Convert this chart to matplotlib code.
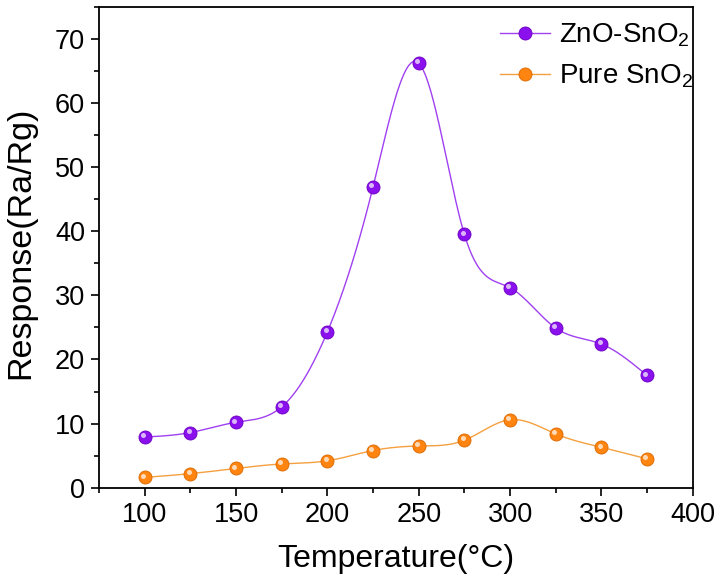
import numpy as np
import matplotlib
matplotlib.use("Agg")
import matplotlib.pyplot as plt
from matplotlib import transforms

plt.rcParams['font.family'] = ['Liberation Sans', 'DejaVu Sans']
plt.rcParams['mathtext.fontset'] = 'custom'
plt.rcParams['mathtext.rm'] = 'Liberation Sans'
plt.rcParams['mathtext.it'] = 'Liberation Sans'

# ---- data ----
temperature = [100, 125, 150, 175, 200, 225, 250, 275, 300, 325, 350, 375]
zno_sno2 = [7.9, 8.6, 10.2, 12.6, 24.3, 46.9, 66.2, 39.5, 31.2, 24.9, 22.4, 17.5]
pure_sno2 = [1.6, 2.2, 3.0, 3.7, 4.2, 5.8, 6.5, 7.4, 10.6, 8.4, 6.3, 4.5]
series_names = ["ZnO-SnO$\\mathregular{_2}$", "Pure SnO$\\mathregular{_2}$"]
x_ticks = [100, 150, 200, 250, 300, 350, 400]
y_ticks = [0, 10, 20, 30, 40, 50, 60, 70]


def natural_spline(x, y, num=600):
    x = np.asarray(x, float)
    y = np.asarray(y, float)
    n = len(x)
    h = np.diff(x)
    A = np.zeros((n, n))
    b = np.zeros(n)
    A[0, 0] = 1
    A[-1, -1] = 1
    for i in range(1, n - 1):
        A[i, i - 1] = h[i - 1]
        A[i, i] = 2 * (h[i - 1] + h[i])
        A[i, i + 1] = h[i]
        b[i] = 6 * ((y[i + 1] - y[i]) / h[i] - (y[i] - y[i - 1]) / h[i - 1])
    M = np.linalg.solve(A, b)
    xs = np.linspace(x[0], x[-1], num)
    idx = np.clip(np.searchsorted(x, xs) - 1, 0, n - 2)
    x0, x1 = x[idx], x[idx + 1]
    hh = x1 - x0
    a = (x1 - xs) / hh
    c = (xs - x0) / hh
    ys = (a * y[idx] + c * y[idx + 1]
          + ((a ** 3 - a) * M[idx] + (c ** 3 - c) * M[idx + 1]) * hh ** 2 / 6)
    return xs, ys


fig = plt.figure(figsize=(7.21, 5.85), dpi=100)
ax = fig.add_axes([0.1373, 0.1663, 0.9608 - 0.1373, 0.9885 - 0.1663])

styles = [
    dict(line='#a040f0', face='#8a10ee', edge='#6a00c0'),
    dict(line='#f5a040', face='#ff8410', edge='#d86800'),
]

hl_offset = transforms.ScaledTranslation(-1.8 / 100, 1.8 / 100, fig.dpi_scale_trans)
handles = []
for ys, name, st in zip([zno_sno2, pure_sno2], series_names, styles):
    sx, sy = natural_spline(temperature, ys)
    ax.plot(sx, sy, color=st['line'], lw=1.0, zorder=2)
    ax.plot(temperature, ys, ls='none', marker='o', ms=9.4,
            mfc=st['face'], mec=st['edge'], mew=0.6, zorder=3)
    ax.plot(temperature, ys, ls='none', marker='o', ms=3.6,
            mfc='white', mec='none', alpha=0.7, zorder=4,
            transform=ax.transData + hl_offset)
    h, = ax.plot([], [], color=st['line'], lw=1.0, marker='o', ms=9.4,
                 mfc=st['face'], mec=st['edge'], mew=0.6, label=name)
    handles.append(h)

ax.set_xlim(75, 400)
ax.set_ylim(0, 75)
ax.set_xticks(x_ticks)
ax.set_yticks(y_ticks)
ax.set_xticks(np.arange(75, 401, 25), minor=True)
ax.set_yticks(np.arange(0, 76, 5), minor=True)

for s in ax.spines.values():
    s.set_linewidth(1.3)
ax.tick_params(which='major', direction='out', length=6, width=1.2,
               labelsize=19.5, pad=4)
ax.tick_params(which='minor', direction='out', length=3.5, width=1.2)

ax.set_xlabel('Temperature(°C)', fontsize=23, labelpad=12)
ax.set_ylabel('Response(Ra/Rg)', fontsize=24.5)
ax.yaxis.set_label_coords(-0.106, 0.51)

ax.legend(handles=handles, loc='upper right', frameon=False, fontsize=20,
          handlelength=1.8, handletextpad=0.35, labelspacing=0.5,
          borderaxespad=0.3, bbox_to_anchor=(1.034, 1.010))

fig.savefig('out.png', dpi=100)
